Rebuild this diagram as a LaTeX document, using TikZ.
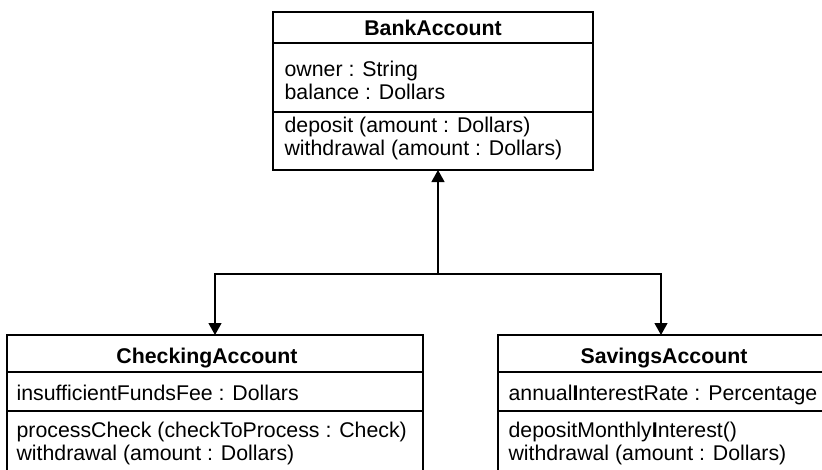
\documentclass[tikz,border=0pt]{standalone}
\usepackage{fontspec}
\setmainfont{Liberation Sans}
\usetikzlibrary{arrows.meta}
\begin{document}
\begin{tikzpicture}[x=1pt,y=-1pt,line width=1.2pt,
  box/.style={draw,rectangle,anchor=north west,inner sep=0pt,outer sep=0pt},
  txt/.style={anchor=base west,inner sep=0pt,font=\fontsize{21.3}{23}\selectfont},
  ttl/.style={anchor=base,inner sep=0pt,font=\fontsize{21.3}{23}\selectfont\bfseries},
  arr/.style={-{Triangle[width=13pt,length=12pt]},line width=1.2pt}]
\useasboundingbox (0,0) rectangle (822,469);
\clip (0,0) rectangle (822,469);
% BankAccount
\node[box,minimum width=320pt,minimum height=158pt] (bank) at (273,12) {};
\draw (bank.west |- 0,43) -- (bank.east |- 0,43);
\draw (bank.west |- 0,112) -- (bank.east |- 0,112);
\node[ttl] (bankT) at (433,35) {BankAccount};
\node[txt] (bankA1) at (284,76) {owner : String};
\node[txt] (bankA2) at (284,99) {balance : Dollars};
\node[txt] (bankM1) at (284,132) {deposit (amount : Dollars)};
\node[txt] (bankM2) at (284,155) {withdrawal (amount : Dollars)};
% CheckingAccount
\node[box,minimum width=416pt,minimum height=160pt] (chk) at (7,335) {};
\draw (chk.west |- 0,372) -- (chk.east |- 0,372);
\draw (chk.west |- 0,411) -- (chk.east |- 0,411);
\node[ttl] (chkT) at (207,363) {CheckingAccount};
\node[txt] (chkA1) at (16,400) {insufficientFundsFee : Dollars};
\node[txt] (chkM1) at (16,437) {processCheck (checkToProcess : Check)};
\node[txt] (chkM2) at (16,460) {withdrawal (amount : Dollars)};
% SavingsAccount
\node[box,minimum width=332pt,minimum height=160pt] (sav) at (498,335) {};
\draw (sav.west |- 0,372) -- (sav.east |- 0,372);
\draw (sav.west |- 0,411) -- (sav.east |- 0,411);
\node[ttl] (savT) at (664,363) {SavingsAccount};
\node[txt] (savA1) at (508,400) {annual\textbf{I}nterestRate : Percentage};
\node[txt] (savM1) at (508,437) {depositMonthly\textbf{I}nterest()};
\node[txt] (savM2) at (508,460) {withdrawal (amount : Dollars)};
% connectors
\coordinate (j) at (438,274);
\coordinate (savIn) at (661,335);
\draw[arr] (j) -- (j |- bank.south);
\draw[arr] (j) -| (chk.north);
\draw[arr] (j) -| (savIn);
\end{tikzpicture}
\end{document}
